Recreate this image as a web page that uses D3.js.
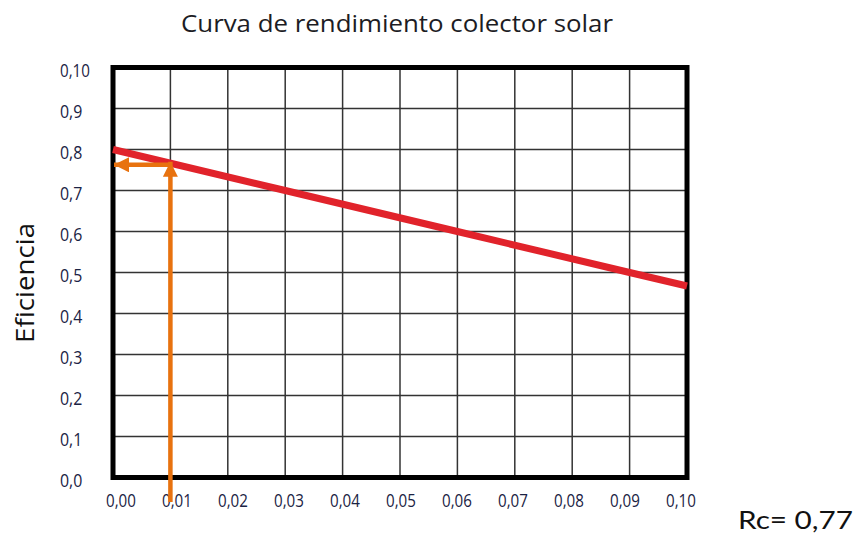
<!DOCTYPE html>
<html>
<head>
<meta charset="utf-8">
<script src="https://cdn.jsdelivr.net/npm/d3@7"></script>
<style>
  html, body { margin: 0; padding: 0; background: #fff; }
  svg { display: block; }
</style>
</head>
<body>
<svg id="chart" width="859" height="533"></svg>
<script>
// Collector efficiency curve (eficiencia vs. reduced temperature difference)
const xTicks = [0, 0.01, 0.02, 0.03, 0.04, 0.05, 0.06, 0.07, 0.08, 0.09, 0.10];
const xTickLabels = ["0,00", "0,01", "0,02", "0,03", "0,04", "0,05", "0,06", "0,07", "0,08", "0,09", "0,10"];
const yTicks = [0, 0.1, 0.2, 0.3, 0.4, 0.5, 0.6, 0.7, 0.8, 0.9, 1.0];
const yTickLabels = ["0,0", "0,1", "0,2", "0,3", "0,4", "0,5", "0,6", "0,7", "0,8", "0,9", "0,10"];

// efficiency curve points
const curveX = [0, 0.03, 0.06, 0.09, 0.10];
const curveY = [0.80, 0.70, 0.60, 0.50, 0.467];

// reading of the collector efficiency at the operating point
const opX = 0.01;
const rc = 0.77;
const arrowTailY = -0.06;   // vertical arrow starts below the axis
const rcLabel = "Rc= 0,77";

const svg = d3.select("#chart");
const x = d3.scaleLinear().domain([0, 0.1]).range([113, 687]);
const y = d3.scaleLinear().domain([0, 1]).range([477.5, 67.5]);
const xLab = d3.scaleLinear().domain([0, 0.1]).range([121, 681]);

// title
svg.append("text")
  .attr("x", 397).attr("y", 32)
  .attr("text-anchor", "middle")
  .attr("font-family", "'Open Sans', sans-serif")
  .attr("font-size", 24)
  .attr("fill", "#1c1c24")
  .attr("textLength", 432).attr("lengthAdjust", "spacingAndGlyphs")
  .text("Curva de rendimiento colector solar");

// grid
const grid = svg.append("g").attr("stroke", "#333").attr("stroke-width", 1.5);
grid.selectAll("line.v").data(xTicks.slice(1, -1)).join("line")
  .attr("x1", d => x(d)).attr("x2", d => x(d))
  .attr("y1", y(0)).attr("y2", y(1));
grid.selectAll("line.h").data(yTicks.slice(1, -1)).join("line")
  .attr("x1", x(0)).attr("x2", x(0.1))
  .attr("y1", d => y(d)).attr("y2", d => y(d));

// frame
svg.append("rect")
  .attr("x", x(0)).attr("y", y(1))
  .attr("width", x(0.1) - x(0)).attr("height", y(0) - y(1))
  .attr("fill", "none").attr("stroke", "#000").attr("stroke-width", 5);

// tick labels: narrow numerals
const tickFont = "'Open Sans', sans-serif";
const labelWidth = s => s.length * 7.6 - 0.5;

svg.append("g").selectAll("text").data(yTicks).join("text")
  .attr("x", 60).attr("y", d => y(d))
  .attr("dy", "0.55em")
  .attr("font-family", tickFont).attr("font-size", 17.5)
  .attr("fill", "#1b2344")
  .attr("lengthAdjust", "spacingAndGlyphs")
  .attr("textLength", (d, i) => labelWidth(yTickLabels[i]))
  .text((d, i) => yTickLabels[i]);

svg.append("g").selectAll("text").data(xTicks).join("text")
  .attr("x", d => xLab(d) - labelWidth(xTickLabels[xTicks.indexOf(d)]) / 2)
  .attr("y", 506.5)
  .attr("font-family", tickFont).attr("font-size", 17.5)
  .attr("fill", "#1b2344")
  .attr("lengthAdjust", "spacingAndGlyphs")
  .attr("textLength", (d, i) => labelWidth(xTickLabels[i]))
  .text((d, i) => xTickLabels[i]);

// y axis title
svg.append("text")
  .attr("transform", "translate(34,283) rotate(-90)")
  .attr("text-anchor", "middle")
  .attr("font-family", "'Open Sans', sans-serif")
  .attr("font-size", 26)
  .attr("fill", "#111")
  .attr("textLength", 120).attr("lengthAdjust", "spacingAndGlyphs")
  .text("Eficiencia");

// efficiency curve
const line = d3.line().x(d => x(d[0])).y(d => y(d[1]));
svg.append("path")
  .datum(curveX.map((v, i) => [v, curveY[i]]))
  .attr("d", line)
  .attr("fill", "none")
  .attr("stroke", "#e1232b")
  .attr("stroke-width", 7);

// arrowheads
const orange = "#e8720f";
const defs = svg.append("defs");
defs.append("marker")
  .attr("id", "head")
  .attr("viewBox", "0 0 10 10")
  .attr("refX", 10).attr("refY", 5)
  .attr("markerUnits", "userSpaceOnUse")
  .attr("markerWidth", 17).attr("markerHeight", 15)
  .attr("orient", "auto")
  .append("path").attr("d", "M0,0 L10,5 L0,10 Z").attr("fill", orange);

// vertical reading arrow: up from the axis to the curve
svg.append("line")
  .attr("x1", x(opX)).attr("x2", x(opX))
  .attr("y1", y(arrowTailY)).attr("y2", y(rc))
  .attr("stroke", orange).attr("stroke-width", 4.5)
  .attr("marker-end", "url(#head)");

// horizontal reading arrow: from the curve to the efficiency axis
svg.append("line")
  .attr("x1", x(opX)).attr("x2", x(0) + 1)
  .attr("y1", y(rc) + 3).attr("y2", y(rc) + 3)
  .attr("stroke", orange).attr("stroke-width", 4.5)
  .attr("marker-end", "url(#head)");

// result label
svg.append("text")
  .attr("x", 738).attr("y", 529)
  .attr("font-family", "Lato, 'Noto Sans', sans-serif")
  .attr("font-size", 25)
  .attr("fill", "#111")
  .attr("textLength", 115).attr("lengthAdjust", "spacingAndGlyphs")
  .text(rcLabel);
</script>
</body>
</html>
